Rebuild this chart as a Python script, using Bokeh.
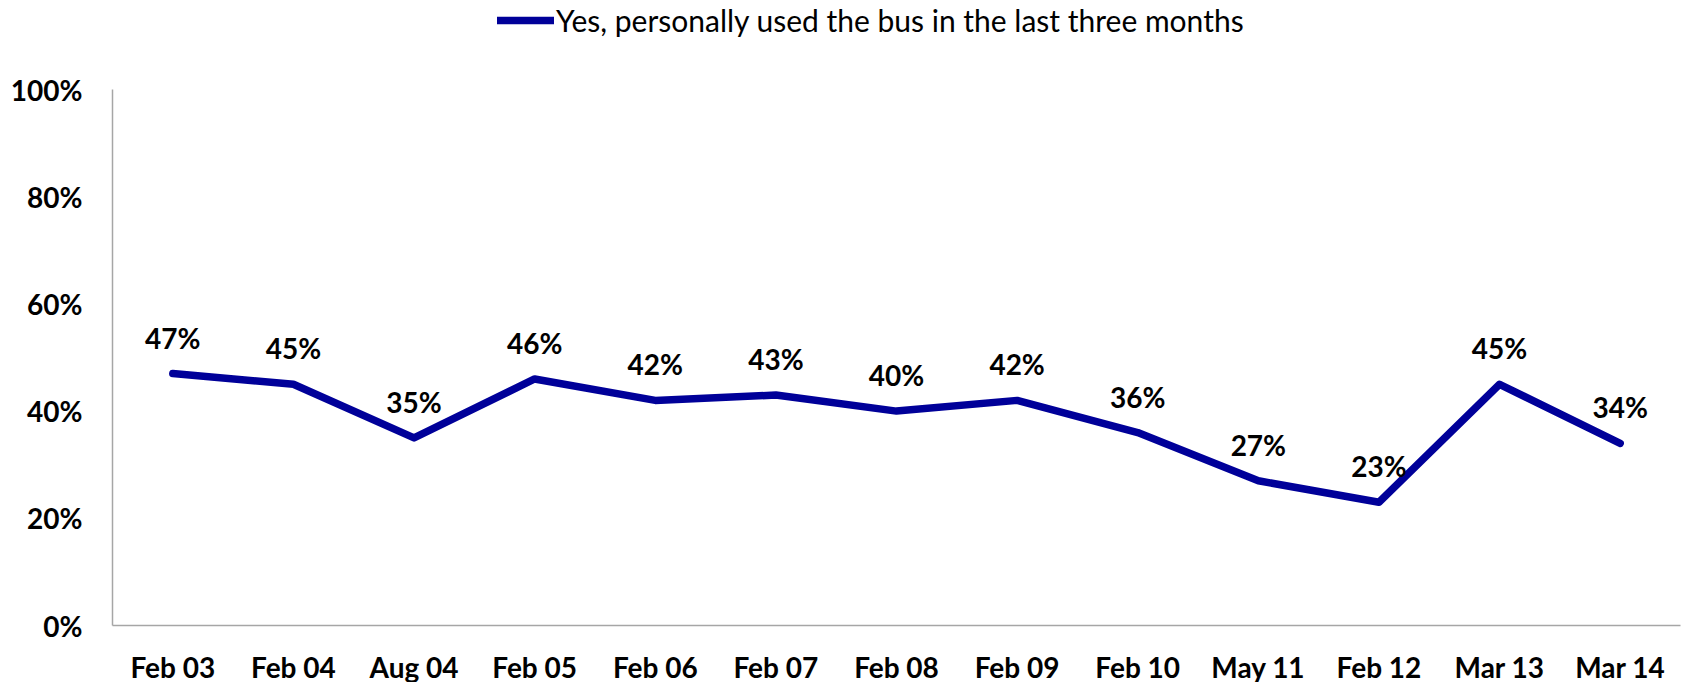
from bokeh.plotting import figure
from bokeh.models import ColumnDataSource, LabelSet, Legend, LegendItem, FixedTicker, FactorRange
from bokeh.core.properties import value
from bokeh.embed import file_html
from bokeh.resources import INLINE

categories = ["Feb 03", "Feb 04", "Aug 04", "Feb 05", "Feb 06", "Feb 07", "Feb 08",
              "Feb 09", "Feb 10", "May 11", "Feb 12", "Mar 13", "Mar 14"]
values = [47, 45, 35, 46, 42, 43, 40, 42, 36, 27, 23, 45, 34]
labels = [f"{v}%" for v in values]
y_ticks = [0, 20, 40, 60, 80, 100]
y_tick_labels = [f"{t}%" for t in y_ticks]
series_name = "Yes, personally used the bus in the last three months"

FONT = "Lato"
LINE_COLOR = "#000099"

# layout (pixels): plotted area 536 px tall for 0..100, plus 89 px headroom for the legend
AXIS_PX = 536
TOP_PX = 89
y_top = 100 * (AXIS_PX + TOP_PX) / AXIS_PX

src = ColumnDataSource(dict(x=categories, y=values, label=labels))

p = figure(frame_width=1568, frame_height=AXIS_PX + TOP_PX, x_range=FactorRange(*categories),
           y_range=(0, y_top), output_backend="svg", toolbar_location=None,
           min_border_left=112, min_border_right=6, min_border_top=0, min_border_bottom=57)
p.outline_line_color = None
p.grid.visible = False
p.background_fill_color = "white"
p.border_fill_color = "white"

r = p.line("x", "y", source=src, line_color=LINE_COLOR, line_width=7.5,
           line_cap="round", line_join="round")

lbl = LabelSet(x="x", y="y", text="label", source=src, y_offset=36, text_align="center",
               text_baseline="middle", text_font=value(FONT), text_font_style="bold",
               text_font_size="28px", text_color="black")
p.add_layout(lbl)

p.yaxis.ticker = FixedTicker(ticks=y_ticks)
p.yaxis.major_label_overrides = {t: s for t, s in zip(y_ticks, y_tick_labels)}
p.yaxis.bounds = (0, 100)
for ax in (p.xaxis, p.yaxis):
    ax.axis_line_color = "#a6a6a6"
    ax.axis_line_width = 1.5
    ax.major_tick_line_color = None
    ax.minor_tick_line_color = None
    ax.major_tick_out = 0
    ax.major_tick_in = 0
    ax.minor_tick_out = 0
    ax.minor_tick_in = 0
    ax.major_label_text_font = FONT
    ax.major_label_text_font_style = "bold"
    ax.major_label_text_font_size = "28px"
    ax.major_label_text_color = "black"
p.yaxis.major_label_standoff = 30
p.xaxis.major_label_standoff = 24

legend = Legend(items=[LegendItem(label=series_name, renderers=[r])],
                location=(385, AXIS_PX + TOP_PX - 38), orientation="horizontal",
                label_text_font=FONT, label_text_font_size="30px", label_text_color="black",
                glyph_width=57, glyph_height=20, label_standoff=2,
                background_fill_alpha=0, border_line_color=None, padding=0, margin=0)
p.add_layout(legend)

open("out.html", "w").write(file_html(p, INLINE))
